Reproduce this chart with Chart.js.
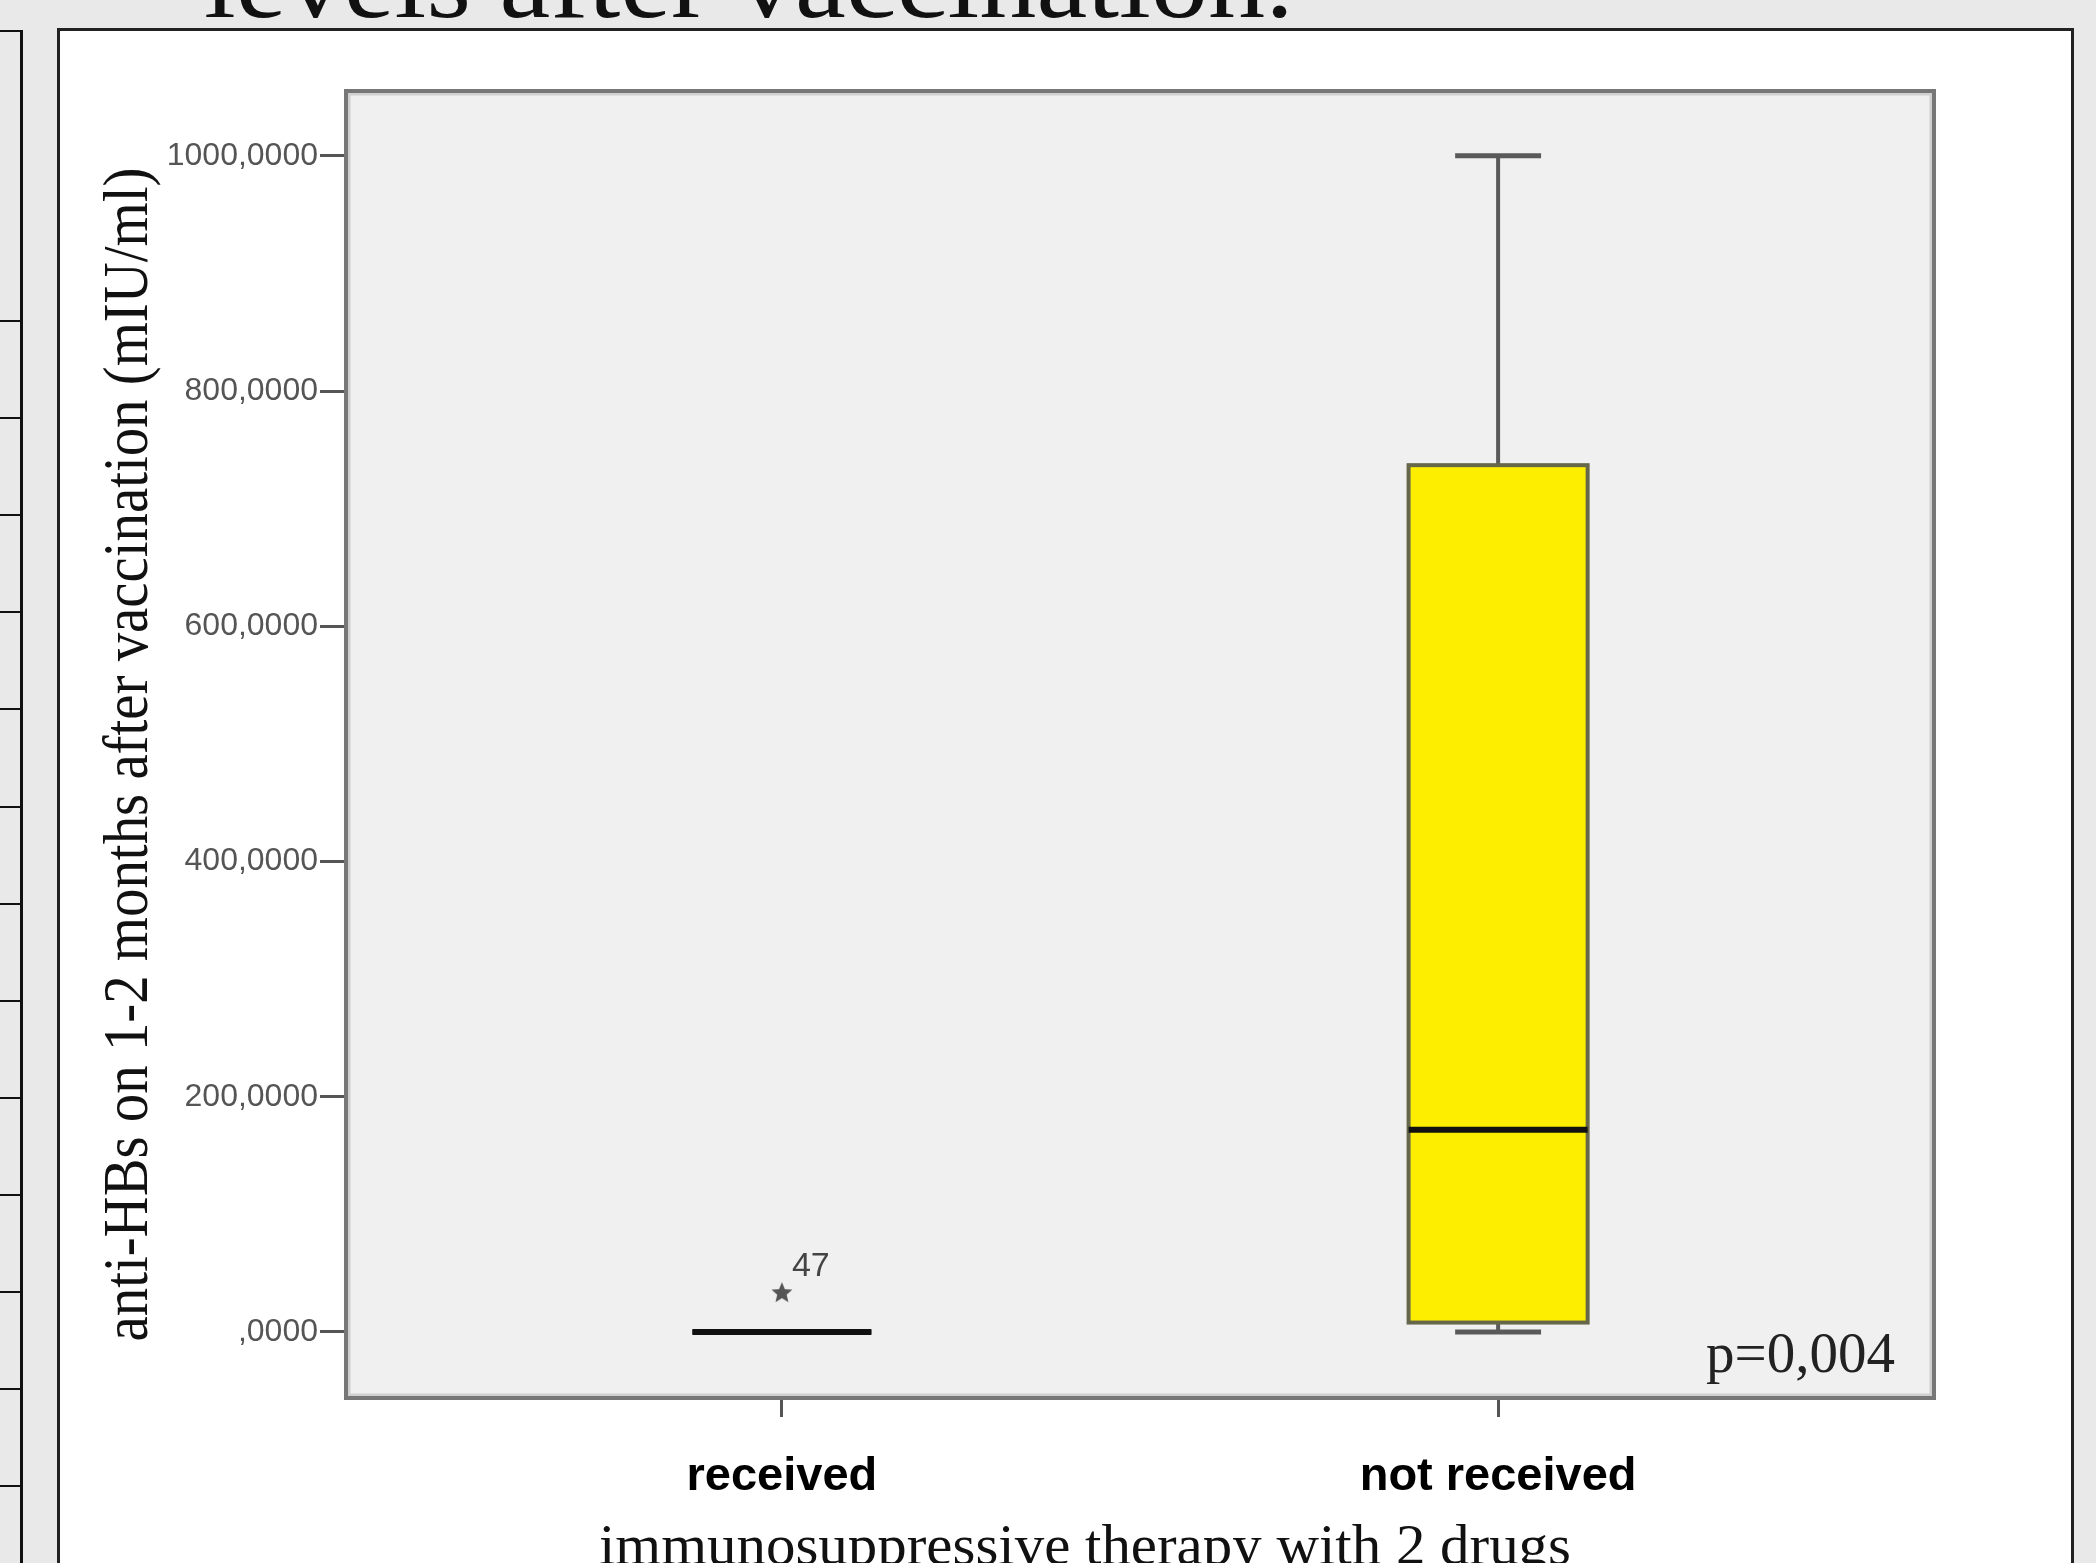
<!DOCTYPE html>
<html>
<head>
<meta charset="utf-8">
<script src="https://cdn.jsdelivr.net/npm/chart.js@4.4.1/dist/chart.umd.min.js"></script>
<style>
  html, body { margin: 0; padding: 0; width: 2096px; height: 1563px; overflow: hidden; background: #e9e9e9; }
  #slideTitle { position: absolute; left: 204px; top: -71px; font-family: 'Liberation Serif', serif; font-size: 105px; line-height: 1; color: #111; white-space: nowrap; transform: scaleX(1.09); transform-origin: left top; }
  #sideTable { position: absolute; left: -10px; top: 30px; width: 30px; height: 1600px; border-top: 2px solid #111; border-right: 3px solid #111; }
  .row { position: absolute; left: 0; width: 100%; border-top: 2px solid #111; }
  #panel { position: absolute; left: 57px; top: 28px; width: 2011px; height: 1600px; background: #fff; border: 3px solid #222; }
  #box-chart { position: absolute; left: 0; top: 0; }
</style>
</head>
<body>
<div id="slideTitle">levels after vaccination.</div>
<div id="sideTable"></div>
<div id="panel"></div>
<canvas id="box-chart" width="2096" height="1620"></canvas>
<script>
// groups on the x axis
const groups = ['received', 'not received'];
// box plot summary per group (mIU/ml)
const whiskerLow = [0, 0];
const q1 = [0, 8];
const medians = [0, 172];
const q3 = [0, 737];
const whiskerHigh = [0, 1000];
// extreme values shown as stars
const outlierGroup = [0];
const outlierValues = [33];
const outlierIds = ['47'];
// y axis ticks
const yTickValues = [0, 200, 400, 600, 800, 1000];
const yTickLabels = [',0000', '200,0000', '400,0000', '600,0000', '800,0000', '1000,0000'];

const xTitle = 'immunosuppressive therapy with 2 drugs';
const yTitle = 'anti-HBs on 1-2 months after vaccination (mIU/ml)';
const pValueText = 'p=0,004';

// table lines on the left edge of the slide
const side = document.getElementById('sideTable');
for (let i = 0; i < 13; i++) {
  const r = document.createElement('div');
  r.className = 'row';
  r.style.top = (288 + i * 97.1) + 'px';
  side.appendChild(r);
}

function makeStar(r, color) {
  const c = document.createElement('canvas');
  c.width = c.height = r * 2 + 2;
  const g = c.getContext('2d');
  g.fillStyle = color;
  g.beginPath();
  for (let i = 0; i < 10; i++) {
    const a = -Math.PI / 2 + i * Math.PI / 5;
    const rr = i % 2 ? r * 0.45 : r;
    g.lineTo(c.width / 2 + rr * Math.cos(a), c.height / 2 + rr * Math.sin(a));
  }
  g.closePath();
  g.fill();
  return c;
}

const boxWidth = 0.25;
const capWidth = 0.12;

const framePlugin = {
  id: 'frame',
  beforeDraw(chart) {
    const { ctx, chartArea: a } = chart;
    ctx.save();
    ctx.fillStyle = '#f0f0f0';
    ctx.fillRect(a.left, a.top, a.right - a.left, a.bottom - a.top);
    ctx.restore();
  },
  afterDraw(chart) {
    const { ctx, chartArea: a } = chart;
    ctx.save();
    ctx.strokeStyle = '#d0d0d0';
    ctx.lineWidth = 3;
    ctx.strokeRect(a.left + 4, a.top + 4, a.right - a.left - 8, a.bottom - a.top - 8);
    ctx.strokeStyle = '#777';
    ctx.lineWidth = 4;
    ctx.strokeRect(a.left + 1, a.top + 1, a.right - a.left - 2, a.bottom - a.top - 2);
    ctx.restore();
  }
};

const boxPlugin = {
  id: 'boxes',
  beforeDatasetsDraw(chart) {
    const { ctx, scales: { x, y } } = chart;
    ctx.save();
    groups.forEach((g, i) => {
      const cx = x.getPixelForValue(i);
      const half = (x.getPixelForValue(i + boxWidth / 2) - x.getPixelForValue(i - boxWidth / 2)) / 2;
      const capHalf = (x.getPixelForValue(i + capWidth / 2) - x.getPixelForValue(i - capWidth / 2)) / 2;
      const yLo = y.getPixelForValue(whiskerLow[i]);
      const yHi = y.getPixelForValue(whiskerHigh[i]);
      const y1 = y.getPixelForValue(q1[i]);
      const y3 = y.getPixelForValue(q3[i]);
      const ym = y.getPixelForValue(medians[i]);

      // whiskers
      ctx.strokeStyle = '#5a5a5a';
      ctx.lineWidth = 4;
      ctx.beginPath();
      ctx.moveTo(cx, y3); ctx.lineTo(cx, yHi);
      ctx.moveTo(cx, y1); ctx.lineTo(cx, yLo);
      ctx.stroke();
      ctx.lineWidth = 5;
      ctx.beginPath();
      ctx.moveTo(cx - capHalf, yHi); ctx.lineTo(cx + capHalf, yHi);
      ctx.moveTo(cx - capHalf, yLo); ctx.lineTo(cx + capHalf, yLo);
      ctx.stroke();

      // box
      ctx.fillStyle = '#fdee00';
      ctx.fillRect(cx - half, y3, half * 2, y1 - y3);
      ctx.strokeStyle = '#66664a';
      ctx.lineWidth = 4;
      ctx.strokeRect(cx - half, y3, half * 2, y1 - y3);

      // median
      ctx.strokeStyle = '#111';
      ctx.lineWidth = 6;
      ctx.beginPath();
      ctx.moveTo(cx - half, ym); ctx.lineTo(cx + half, ym);
      ctx.stroke();
    });
    ctx.restore();
  }
};

const labelPlugin = {
  id: 'labels',
  afterDraw(chart) {
    const { ctx, chartArea: a, scales: { x, y } } = chart;
    ctx.save();

    // outlier case numbers
    ctx.fillStyle = '#444';
    ctx.font = '34px "Liberation Sans", Arial, sans-serif';
    ctx.textAlign = 'left';
    ctx.textBaseline = 'alphabetic';
    outlierValues.forEach((v, i) => {
      ctx.fillText(outlierIds[i], x.getPixelForValue(outlierGroup[i]) + 10, y.getPixelForValue(v) - 17);
    });

    // p value
    ctx.fillStyle = '#222';
    ctx.font = '57px "Liberation Serif", serif';
    ctx.textAlign = 'right';
    ctx.fillText(pValueText, a.right - 40, a.bottom - 27);

    // y axis title
    ctx.save();
    ctx.translate(a.left - 198, (a.top + a.bottom) / 2 + 10);
    ctx.rotate(-Math.PI / 2);
    ctx.font = '48px "Liberation Serif", serif';
    ctx.fillStyle = '#111';
    ctx.textAlign = 'center';
    const wy = ctx.measureText(yTitle).width;
    ctx.scale(1174 / wy, 1.3);
    ctx.fillText(yTitle, 0, 0);
    ctx.restore();

    // x axis title
    ctx.save();
    ctx.translate(a.left + 740, a.bottom + 165);
    ctx.font = '58px "Liberation Serif", serif';
    ctx.fillStyle = '#111';
    ctx.textAlign = 'center';
    const wx = ctx.measureText(xTitle).width;
    ctx.scale(972 / wx, 1);
    ctx.fillText(xTitle, 0, 0);
    ctx.restore();

    ctx.restore();
  }
};

const ctx = document.getElementById('box-chart').getContext('2d');

new Chart(ctx, {
  type: 'scatter',
  data: {
    datasets: [{
      label: 'extremes',
      data: outlierValues.map((v, i) => ({ x: outlierGroup[i], y: v })),
      pointStyle: makeStar(11, '#555'),
      pointRadius: 11,
      pointHoverRadius: 11
    }]
  },
  options: {
    responsive: false,
    animation: false,
    events: [],
    layout: { padding: { left: 0, top: 90, right: 161, bottom: 0 } },
    plugins: {
      legend: { display: false },
      tooltip: { enabled: false }
    },
    scales: {
      x: {
        type: 'linear',
        min: -0.61,
        max: 1.61,
        afterBuildTicks: s => { s.ticks = groups.map((g, i) => ({ value: i })); },
        afterFit: s => { s.height = 221; },
        border: { display: false },
        grid: { drawOnChartArea: false, tickLength: 18, tickColor: '#555', tickWidth: 3 },
        ticks: {
          callback: v => groups[v],
          autoSkip: false,
          maxRotation: 0,
          padding: 32,
          color: '#000',
          font: { family: "'Liberation Sans', Arial", size: 47, weight: 'bold' }
        }
      },
      y: {
        min: -57,
        max: 1056,
        afterBuildTicks: s => { s.ticks = yTickValues.map(v => ({ value: v })); },
        afterFit: s => { s.width = 345; },
        border: { display: false },
        grid: { drawOnChartArea: false, tickLength: 25, tickColor: '#555', tickWidth: 3 },
        ticks: {
          callback: v => yTickLabels[yTickValues.indexOf(v)],
          padding: 2,
          color: '#555',
          font: { family: "'Liberation Sans', Arial", size: 32 }
        }
      }
    }
  },
  plugins: [framePlugin, boxPlugin, labelPlugin]
});
</script>
</body>
</html>
